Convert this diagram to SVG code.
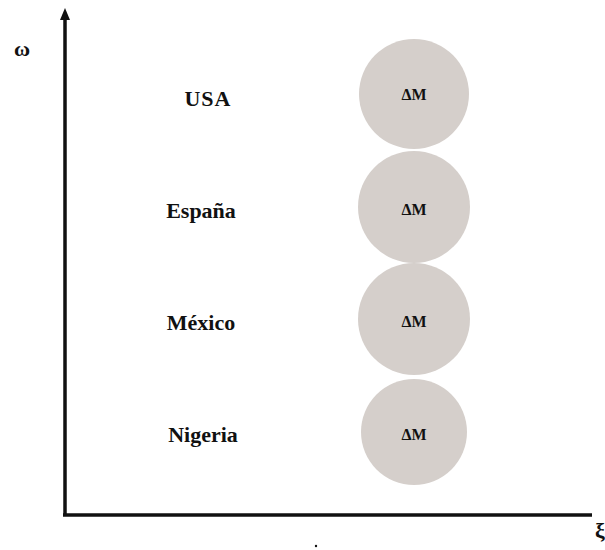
<svg xmlns="http://www.w3.org/2000/svg" width="605" height="550" viewBox="0 0 605 550">
<style>
.lbl{font-family:"Liberation Serif",serif;font-weight:bold;font-size:22px;fill:#111;text-anchor:middle}
.dm{font-family:"Liberation Serif",serif;font-weight:bold;font-size:16px;fill:#111;text-anchor:middle}
.c{fill:#d5cfcb}
.ax{stroke:#111;stroke-width:3.5;fill:none}
</style>
<g id="axes">
<path class="ax" d="M65,515 L65,14"/>
<path d="M60,20 L65,8 L70,20 Z" fill="#111"/>
<path class="ax" d="M63,515 L592,515"/>
<text x="22" y="56" class="lbl" font-size="20">ω</text>
<text x="600" y="538" class="lbl" font-size="26">ξ</text>
<circle cx="316" cy="546" r="1.2" fill="#111"/>
</g>
<g id="usa"><text x="208" y="106" class="lbl" letter-spacing="1">USA</text><circle class="c" cx="414" cy="94" r="55"/><text x="414" y="100" class="dm">ΔM</text></g>
<g id="espana"><text x="201" y="218" class="lbl">España</text><circle class="c" cx="414" cy="207" r="56"/><text x="414" y="215" class="dm">ΔM</text></g>
<g id="mexico"><text x="201" y="330" class="lbl">México</text><circle class="c" cx="414" cy="319" r="56"/><text x="414" y="327" class="dm">ΔM</text></g>
<g id="nigeria"><text x="203" y="442" class="lbl">Nigeria</text><circle class="c" cx="414" cy="432" r="53"/><text x="414" y="440" class="dm">ΔM</text></g>
</svg>
